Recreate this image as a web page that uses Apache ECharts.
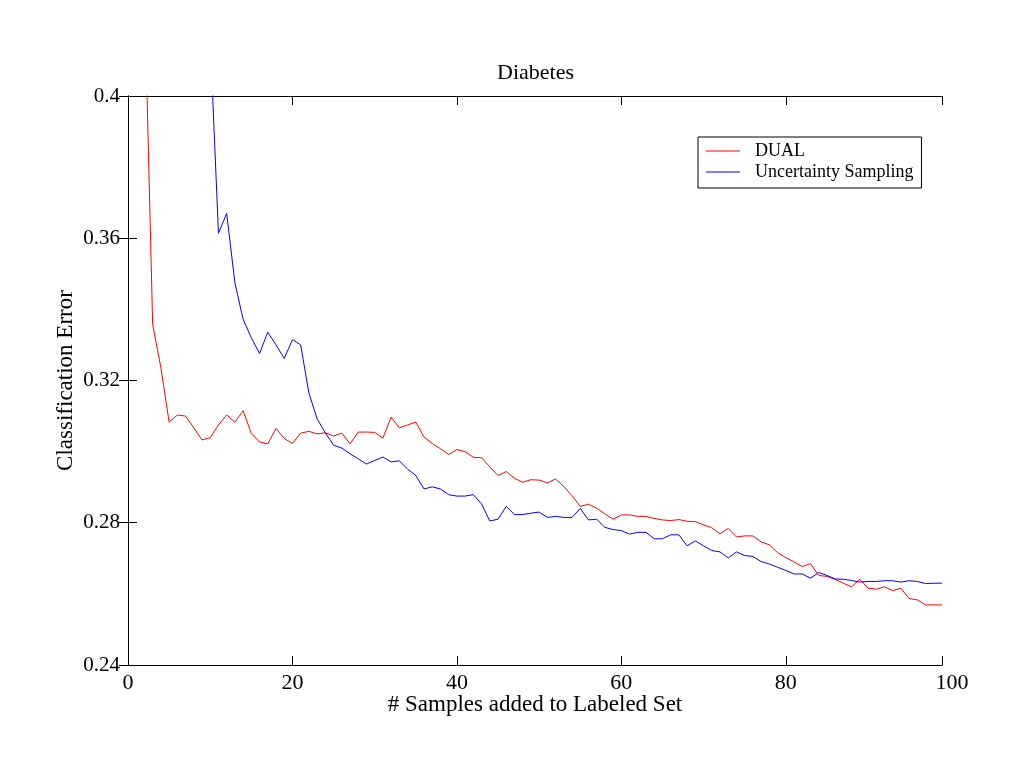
<!DOCTYPE html>
<html>
<head>
<meta charset="utf-8">
<title>Diabetes</title>
<script src="https://cdn.jsdelivr.net/npm/echarts@6/dist/echarts.min.js"></script>
<style>
  html, body { margin: 0; background: #fff; }
  #chart { width: 1024px; height: 768px; }
</style>
</head>
<body>
<div id="chart"></div>
<script>
// first x value (samples added) of each curve
const dualStart = 2
const uncertaintyStart = 10

// DUAL, x = 2..99
const dualError = [
  0.430, 0.3358, 0.3236, 0.3083, 0.3103, 0.3100, 0.3067, 0.3033, 0.3039, 0.3075,
  0.3103, 0.3083, 0.3115, 0.3051, 0.3027, 0.3022, 0.3065, 0.3037, 0.3023, 0.3052,
  0.3057, 0.3050, 0.3053, 0.3044, 0.3052, 0.3022, 0.3055, 0.3055, 0.3054, 0.3038,
  0.3097, 0.3067, 0.3075, 0.3083, 0.3041, 0.3023, 0.3008, 0.2992, 0.3006, 0.3000,
  0.2984, 0.2983, 0.2957, 0.2933, 0.2944, 0.2925, 0.2914, 0.2921, 0.2920, 0.2912,
  0.2923, 0.2902, 0.2876, 0.2846, 0.2852, 0.2841, 0.2825, 0.2810, 0.2822, 0.2822,
  0.2818, 0.2818, 0.2812, 0.2808, 0.2806, 0.2809, 0.2804, 0.2803, 0.2794, 0.2786,
  0.2769, 0.2784, 0.2760, 0.2763, 0.2763, 0.2746, 0.2738, 0.2716, 0.2702, 0.2690,
  0.2677, 0.2685, 0.2652, 0.2649, 0.2641, 0.2630, 0.2620, 0.2641, 0.2616, 0.2613,
  0.2620, 0.2609, 0.2616, 0.2587, 0.2583, 0.2569, 0.2569, 0.2569
]

// Uncertainty Sampling, x = 10..99
const uncertaintyError = [
  0.416, 0.3614, 0.3670, 0.3475, 0.3372, 0.3320, 0.3276, 0.3336, 0.3300, 0.3262,
  0.3315, 0.3300, 0.3165, 0.3092, 0.3053, 0.3018, 0.3010, 0.2994, 0.2980, 0.2965,
  0.2975, 0.2985, 0.2971, 0.2974, 0.2951, 0.2933, 0.2895, 0.2901, 0.2895, 0.2879,
  0.2875, 0.2875, 0.2879, 0.2853, 0.2805, 0.2810, 0.2846, 0.2823, 0.2823, 0.2827,
  0.2830, 0.2815, 0.2818, 0.2815, 0.2815, 0.2840, 0.2808, 0.2810, 0.2787, 0.2781,
  0.2778, 0.2768, 0.2773, 0.2773, 0.2755, 0.2755, 0.2766, 0.2766, 0.2735, 0.2749,
  0.2735, 0.2722, 0.2718, 0.2701, 0.2718, 0.2708, 0.2705, 0.2691, 0.2684, 0.2675,
  0.2666, 0.2656, 0.2656, 0.2644, 0.2660, 0.2652, 0.2642, 0.2641, 0.2638, 0.2633,
  0.2635, 0.2635, 0.2637, 0.2637, 0.2633, 0.2637, 0.2635, 0.2629, 0.2630, 0.2630
]

// axis ranges; the box ends at 99 but the last label reads 100
const xMax = 99
const lastXLabel = '100'
const yMin = 0.24
const yMax = 0.4

const font = 'Liberation Serif'

const chart = echarts.init(document.getElementById('chart'))

const mirrorTick = {
  show: true,
  inside: true,
  length: 9,
  lineStyle: { color: '#000', width: 1 }
}

chart.setOption({
  animation: false,
  backgroundColor: '#fff',
  title: {
    text: 'Diabetes',
    left: 492,
    top: 57,
    textStyle: {
      fontFamily: font,
      fontSize: 22,
      fontWeight: 'normal',
      color: '#000'
    }
  },
  legend: {
    orient: 'vertical',
    left: 698,
    top: 137,
    padding: [5, 8, 7, 8],
    itemGap: 3,
    itemWidth: 34,
    itemHeight: 1,
    icon: 'rect',
    backgroundColor: '#fff',
    borderColor: '#000',
    borderWidth: 1,
    borderRadius: 0,
    textStyle: {
      fontFamily: font,
      fontSize: 18,
      lineHeight: 18,
      color: '#000',
      padding: [0, 0, 0, 10]
    },
    data: ['DUAL', 'Uncertainty Sampling']
  },
  grid: {
    left: 128,
    right: 82,
    top: 96,
    bottom: 103,
    containLabel: false
  },
  xAxis: [
    {
      type: 'value',
      min: 0,
      max: xMax,
      interval: 20,
      name: '# Samples added to Labeled Set',
      nameLocation: 'middle',
      nameGap: 28,
      nameMoveOverlap: false,
      nameTextStyle: { fontFamily: font, fontSize: 23, color: '#000' },
      axisLine: { lineStyle: { color: '#000', width: 1 } },
      axisTick: mirrorTick,
      splitLine: { show: false },
      axisLabel: {
        fontFamily: font,
        fontSize: 22,
        color: '#000',
        margin: 7,
        showMaxLabel: true,
        formatter: v => (v === xMax ? '{last|' + lastXLabel + '}' : String(v)),
        rich: {
          last: { fontFamily: font, fontSize: 22, color: '#000', padding: [0, 0, 0, 20] }
        }
      }
    },
    {
      type: 'value',
      position: 'top',
      min: 0,
      max: xMax,
      interval: 20,
      axisLine: { show: true, lineStyle: { color: '#000', width: 1 } },
      axisTick: mirrorTick,
      axisLabel: { show: false },
      splitLine: { show: false }
    }
  ],
  yAxis: [
    {
      type: 'value',
      min: yMin,
      max: yMax,
      interval: 0.04,
      name: 'Classification Error',
      nameLocation: 'middle',
      nameGap: 51,
      nameMoveOverlap: false,
      nameTextStyle: { fontFamily: font, fontSize: 23, color: '#000' },
      axisLine: { show: true, lineStyle: { color: '#000', width: 1 } },
      axisTick: mirrorTick,
      splitLine: { show: false },
      axisLabel: {
        fontFamily: font,
        fontSize: 21,
        color: '#000',
        margin: 8
      }
    },
    {
      type: 'value',
      position: 'right',
      min: yMin,
      max: yMax,
      interval: 0.04,
      axisLine: { show: true, lineStyle: { color: '#000', width: 1 } },
      axisTick: mirrorTick,
      axisLabel: { show: false },
      splitLine: { show: false }
    }
  ],
  series: [
    {
      name: 'DUAL',
      type: 'line',
      showSymbol: false,
      symbol: 'none',
      clip: true,
      color: '#ff0000',
      lineStyle: { color: '#ff0000', width: 1 },
      data: dualError.map((v, i) => [dualStart + i, v])
    },
    {
      name: 'Uncertainty Sampling',
      type: 'line',
      showSymbol: false,
      symbol: 'none',
      clip: true,
      color: '#0000ff',
      lineStyle: { color: '#0000ff', width: 1 },
      data: uncertaintyError.map((v, i) => [uncertaintyStart + i, v])
    }
  ]
})
</script>
</body>
</html>
